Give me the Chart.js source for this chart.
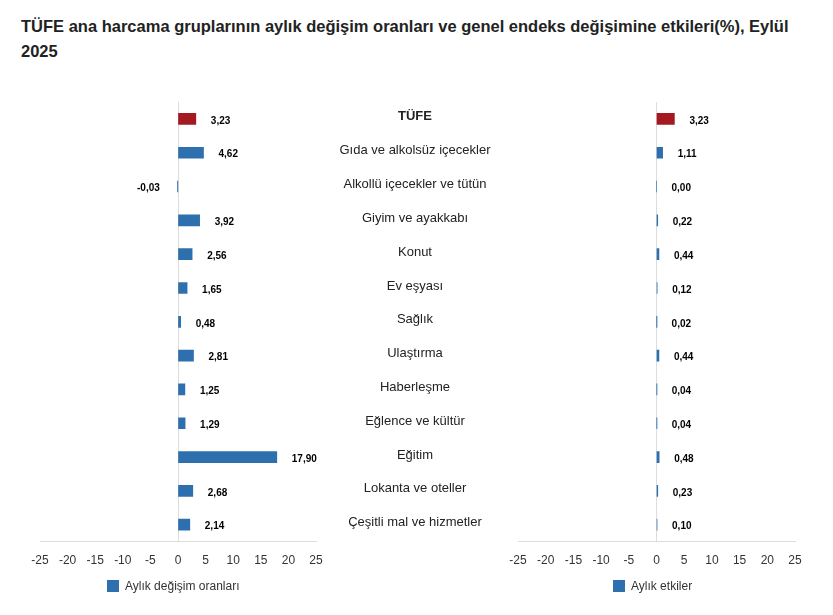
<!DOCTYPE html>
<html>
<head>
<meta charset="utf-8">
<script src="https://cdn.jsdelivr.net/npm/chart.js@4"></script>
<style>
body { margin: 0; background: #fff; font-family: "Helvetica Neue", Arial, "Liberation Sans", sans-serif; }
#title { position: absolute; left: 21px; top: 14px; width: 770px; font-size: 16.5px; font-weight: bold; color: #222; line-height: 25px; }
.wrap { position: absolute; top: 90px; height: 490px; }
.legend { position: absolute; top: 579px; font-size: 12px; color: #333; }
.legend span { display: inline-block; width: 12px; height: 12px; background: #2e6fad; vertical-align: -2px; margin-right: 6px; }
</style>
</head>
<body>
<div id="title">TÜFE ana harcama gruplarının aylık değişim oranları ve genel endeks değişimine etkileri(%), Eylül 2025</div>
<div class="wrap" style="left:0;width:500px"><canvas id="left"></canvas></div>
<div class="wrap" style="left:480px;width:353px"><canvas id="right"></canvas></div>
<div class="legend" style="left:107px"><span></span>Aylık değişim oranları</div>
<div class="legend" style="left:613px"><span></span>Aylık etkiler</div>
<script>
var categories = ["TÜFE", "Gıda ve alkolsüz içecekler", "Alkollü içecekler ve tütün", "Giyim ve ayakkabı", "Konut", "Ev eşyası", "Sağlık", "Ulaştırma", "Haberleşme", "Eğlence ve kültür", "Eğitim", "Lokanta ve oteller", "Çeşitli mal ve hizmetler"];
var monthlyChange = [3.23, 4.62, -0.03, 3.92, 2.56, 1.65, 0.48, 2.81, 1.25, 1.29, 17.90, 2.68, 2.14];
var contribution = [3.23, 1.11, 0.00, 0.22, 0.44, 0.12, 0.02, 0.44, 0.04, 0.04, 0.48, 0.23, 0.10];

var BLUE = "#2e6fad", RED = "#a3191f";

function fmt(v) { return v.toFixed(2).replace(".", ","); }

var valueLabels = {
    id: "valueLabels",
    afterDatasetsDraw: function(chart) {
        var ctx = chart.ctx;
        var meta = chart.getDatasetMeta(0);
        var data = chart.data.datasets[0].data;
        ctx.save();
        ctx.font = "bold 10px Arial, 'Liberation Sans', sans-serif";
        ctx.fillStyle = "#000";
        ctx.textBaseline = "middle";
        meta.data.forEach(function(bar, i) {
            if (data[i] < 0) {
                ctx.textAlign = "right";
                ctx.fillText(fmt(data[i]), bar.x - 18, bar.y + 2);
            } else {
                ctx.textAlign = "left";
                ctx.fillText(fmt(data[i]), bar.x + 15, bar.y + 2);
            }
        });
        if (chart.canvas.id == "left") {
            ctx.fillStyle = "#222";
            ctx.textAlign = "center";
            meta.data.forEach(function(bar, i) {
                ctx.font = i == 0 ? "bold 13px Arial, 'Liberation Sans', sans-serif" : "13px Arial, 'Liberation Sans', sans-serif";
                ctx.fillText(categories[i], 415, bar.y - 2);
            });
        }
        ctx.restore();
    }
};

function makeChart(id, values, padL, padR) {
    var colors = values.map(function(v, i) { return i == 0 ? RED : BLUE; });
    return new Chart(document.getElementById(id).getContext("2d"), {
        type: "bar",
        data: {
            labels: categories,
            datasets: [{ data: values, backgroundColor: colors, barThickness: 11 }]
        },
        options: {
            indexAxis: "y",
            responsive: true,
            maintainAspectRatio: false,
            animation: false,
            layout: { padding: { left: padL, right: padR, top: 12 } },
            plugins: { legend: { display: false }, tooltip: { enabled: false } },
            scales: {
                x: {
                    min: -25, max: 25,
                    ticks: { stepSize: 5, color: "#333", font: { size: 12 }, padding: 12 },
                    grid: {
                        drawTicks: false,
                        color: function(c) { return c.tick && c.tick.value == 0 ? "#ddd" : "rgba(0,0,0,0)"; }
                    },
                    border: { color: "#ddd" }
                },
                y: { display: false }
            }
        },
        plugins: [valueLabels]
    });
}

makeChart("left", monthlyChange, 40, 184);
makeChart("right", contribution, 38, 38);
</script>
</body>
</html>
